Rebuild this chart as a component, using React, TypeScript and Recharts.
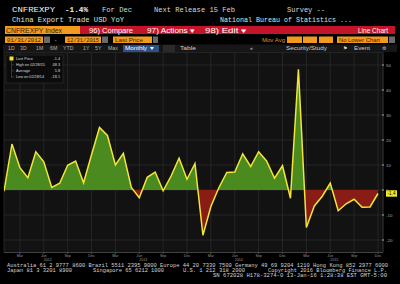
import React from 'react';
import { AreaChart, Area, XAxis, YAxis, CartesianGrid, ReferenceLine } from 'recharts';

const months = ['Jan', 'Feb', 'Mar', 'Apr', 'May', 'Jun', 'Jul', 'Aug', 'Sep', 'Oct', 'Nov', 'Dec'];
const years = [2012, 2013, 2014, 2015];
const values2012 = [-0.5, 18.4, 8.9, 4.9, 15.3, 11.3, 1.0, 2.7, 9.9, 11.6, 2.9, 14.1];
const values2013 = [25.0, 21.8, 10.0, 14.7, 1.0, -3.1, 5.1, 7.2, -0.3, 5.6, 12.7, 4.3];
const values2014 = [10.6, -18.1, -6.6, 0.9, 7.0, 7.2, 14.5, 9.4, 15.3, 11.6, 4.7, 9.7];
const values2015 = [-3.3, 48.3, -15.0, -6.4, -2.5, 2.8, -8.3, -5.5, -3.7, -6.9, -6.8, -1.4];
const exportYoY = [...values2012, ...values2013, ...values2014, ...values2015];
const tickMonths = ['Mar', 'Jun', 'Sep', 'Dec'];
const yTicks = [-20, -10, 0, 10, 20, 30, 40, 50];
const lastPriceLabel = '-1.4';
const legendRows = [
  { label: 'Last Price', value: '-1.4' },
  { label: 'High on 02/28/15', value: '48.3' },
  { label: 'Average', value: '5.8' },
  { label: 'Low on 02/28/14', value: '-18.1' },
];
const periodButtons = ['1D', '3D', '1M', '6M', 'YTD', '1Y', '5Y', 'Max'];

const data = exportYoY.map((v, i) => ({
  i,
  month: months[i % 12],
  year: years[Math.floor(i / 12)],
  v,
}));
const xTicks = data.filter((d) => tickMonths.includes(d.month)).map((d) => d.i);
const maxV = Math.max(...exportYoY);
const minV = Math.min(...exportYoY);
const zeroOffset = maxV / (maxV - minV);

const MONO = '"Liberation Mono", "DejaVu Sans Mono", monospace';
const SANS = '"Liberation Sans", Arial, sans-serif';
const GREEN = '#4b8a1f';
const RED = '#8a1c16';
const YELLOW = '#f3e53a';
const ORANGE = '#f39a1e';
const BARRED = '#c4142a';

const T = ({ x, y, w, size = 6, fill = '#ddd', anchor = 'start', font = MONO, weight = 'normal', children }: any) => (
  <text
    x={x}
    y={y}
    fontSize={size}
    fill={fill}
    textAnchor={anchor}
    fontFamily={font}
    fontWeight={weight}
    textLength={w}
    lengthAdjust={w ? 'spacingAndGlyphs' : undefined}
  >
    {children}
  </text>
);

const XTick = ({ x, y, payload }: any) => {
  const d = data[payload.value];
  if (!d) return null;
  return (
    <g>
      <line x1={x} x2={x} y1={y} y2={y + 1.5} stroke="#777" strokeWidth={0.6} />
      <text x={x} y={y + 4.5} fontSize={3.6} fill="#9a9a9a" textAnchor="middle" fontFamily={SANS}>
        {d.month}
      </text>
      {d.month === 'Jun' && (
        <text x={x + 4} y={y + 8.3} fontSize={3.6} fill="#9a9a9a" textAnchor="middle" fontFamily={SANS}>
          {d.year}
        </text>
      )}
    </g>
  );
};

const YTick = ({ x, y, payload }: any) => (
  <g>
    <circle cx={x} cy={y} r={0.8} fill="#bbb" />
    <text x={x + 3} y={y + 1.5} fontSize={4.4} fill="#aaa" fontFamily={SANS}>
      {payload.value}
    </text>
  </g>
);

const LastLabel = (props: any) => {
  const vb = props.viewBox || {};
  const x = (vb.x || 0) + (vb.width || 0) + 3;
  const y = vb.y || 0;
  return (
    <g>
      <rect x={x} y={y - 3.2} width={11} height={6.4} fill="#f2e82a" />
      <text x={x + 5.5} y={y + 1.8} fontSize={4.6} fill="#000" textAnchor="middle" fontFamily={SANS}>
        {lastPriceLabel}
      </text>
    </g>
  );
};

const Overlay = () => (
  <svg width={400} height={284} style={{ position: 'absolute', left: 0, top: 0, pointerEvents: 'none' }}>
    {/* header background */}
    <rect x={0} y={0} width={400} height={52} fill="#000" />
    {/* row 1 */}
    <T x={12} y={12} w={43} size={8} fill="#f0f0f0">CNFREXPY</T>
    <T x={65} y={12} w={23} size={8} fill="#f0f0f0" weight="bold">-1.4%</T>
    <T x={102} y={12} w={30} size={7} fill="#d8d8d8">For Dec</T>
    <T x={154} y={12} w={81} size={7} fill="#d8d8d8">Next Release 15 Feb</T>
    <T x={287} y={12} w={38} size={7} fill="#d8d8d8">Survey --</T>
    {/* row 2 */}
    <T x={12} y={22} w={112} size={7} fill="#d6e6e2">China Export Trade USD YoY</T>
    <T x={220} y={22} w={132} size={7} fill="#d6e6e2">National Bureau of Statistics ...</T>
    {/* row 3 */}
    <rect x={5} y={26} width={75} height={8} fill={ORANGE} />
    <T x={6} y={32.5} w={56} size={6.5} fill="#3a2000" font={SANS}>CNFREXPY Index</T>
    <rect x={80} y={26} width={315} height={8} fill={BARRED} />
    <T x={89} y={32.5} w={44} size={6.5} fill="#fff" font={SANS}>96) Compare</T>
    <T x={147} y={32.5} w={48} size={6.5} fill="#fff" font={SANS}>97) Actions ▾</T>
    <T x={205} y={32.5} w={42} size={6.5} fill="#fff" font={SANS}>98) Edit ▾</T>
    <T x={388} y={32.5} size={6.5} fill="#fff" anchor="end" font={SANS}>Line Chart</T>
    {/* row 4 */}
    <rect x={5} y={36.5} width={38} height={6.5} fill={ORANGE} />
    <T x={7} y={41.8} w={34} size={5.5} fill="#3a2000">01/31/2012</T>
    <rect x={44} y={36.5} width={6} height={6.5} fill="#6a6a6a" />
    <T x={54} y={41.8} size={5.5} fill="#ccc">-</T>
    <rect x={65} y={36.5} width={36} height={6.5} fill={ORANGE} />
    <T x={67} y={41.8} w={32} size={5.5} fill="#3a2000">12/31/2015</T>
    <rect x={102} y={36.5} width={6} height={6.5} fill="#6a6a6a" />
    <rect x={113} y={36.5} width={39} height={6.5} fill={ORANGE} />
    <T x={115} y={41.8} w={28} size={5.5} fill="#3a2000" font={SANS}>Last Price</T>
    <rect x={153} y={36.5} width={5} height={6.5} fill="#6a6a6a" />
    <T x={262} y={41.8} w={23} size={5} fill="#d8952e" font={SANS}>Mov Avg</T>
    <rect x={287} y={36.5} width={15} height={6.5} fill={ORANGE} />
    <rect x={303} y={36.5} width={14} height={6.5} fill={ORANGE} />
    <rect x={319} y={36.5} width={14} height={6.5} fill={ORANGE} />
    <rect x={337} y={36.5} width={51} height={6.5} fill={ORANGE} />
    <T x={339} y={41.8} w={41} size={5.5} fill="#3a2000" font={SANS}>No Lower Chart</T>
    <rect x={389} y={36.5} width={6} height={6.5} fill="#6a6a6a" />
    {/* row 5 */}
    <rect x={3} y={44.5} width={394} height={7.5} fill="#161616" />
    {periodButtons.map((b, k) => {
      const xs = [8, 20, 36, 50, 63, 83, 95, 108];
      return (
        <T key={b} x={xs[k]} y={50.3} size={5.2} fill="#b0b0b0" font={SANS}>
          {b}
        </T>
      );
    })}
    <rect x={123} y={45} width={36} height={7} fill="#2c4f86" />
    <T x={125} y={50.3} w={30} size={5.2} fill="#fff" font={SANS}>Monthly ▼</T>
    <rect x={163} y={45} width={12} height={7} fill="#2a2a2a" />
    <T x={180} y={50.3} w={16} size={5.2} fill="#ccc" font={SANS}>Table</T>
    <T x={250} y={50.3} size={5.2} fill="#ccc" font={SANS}>«</T>
    <T x={286} y={50.3} w={41} size={5.2} fill="#ccc" font={SANS}>Security/Study</T>
    <T x={343} y={50.3} size={5.2} fill="#ddd" font={SANS}>⚑</T>
    <T x={354} y={50.3} w={16} size={5.2} fill="#ccc" font={SANS}>Event</T>
    <T x={382} y={50.3} size={5.2} fill="#ccc" font={SANS}>⚙</T>
    {/* legend */}
    <rect x={6} y={55} width={57} height={28} fill="#0b0b0b" stroke="#3a3a3a" strokeWidth={0.5} />
    <rect x={9.5} y={56.5} width={4} height={4} fill="#f3e33a" />
    <line x1={11.5} x2={11.5} y1={61} y2={78} stroke="#777" strokeWidth={0.4} />
    {legendRows.map((r, k) => {
      const yy = [59.8, 66, 72, 78][k];
      return (
        <g key={r.label}>
          {k > 0 && <line x1={11.5} x2={14} y1={yy - 1.2} y2={yy - 1.2} stroke="#777" strokeWidth={0.4} />}
          <T x={16} y={yy} size={3.8} fill="#ddd" font={SANS}>{r.label}</T>
          <T x={60} y={yy} size={3.8} fill="#ddd" anchor="end" font={SANS}>{r.value}</T>
        </g>
      );
    })}
    {/* footer */}
    <rect x={0} y={262} width={400} height={22} fill="#000" />
    <T x={7} y={267} w={381} size={5.3} fill="#d4d4d4">Australia 61 2 9777 8600 Brazil 5511 2395 9000 Europe 44 20 7330 7500 Germany 49 69 9204 1210 Hong Kong 852 2977 6000</T>
    <T x={7} y={272} w={65} size={5.3} fill="#d4d4d4">Japan 81 3 3201 8900</T>
    <T x={93} y={272} w={71} size={5.3} fill="#d4d4d4">Singapore 65 6212 1000</T>
    <T x={183} y={272} w={62} size={5.3} fill="#d4d4d4">U.S. 1 212 318 2000</T>
    <T x={268} y={272} w={119} size={5.3} fill="#d4d4d4">Copyright 2016 Bloomberg Finance L.P.</T>
    <T x={213} y={277} w={174} size={5.3} fill="#d4d4d4">SN 672028 H178-3274-0 13-Jan-16  1:28:38 EST  GMT-5:00</T>
  </svg>
);

export default function App() {
  return (
    <div style={{ position: 'absolute', left: 0, top: 0, width: 400, height: 284, background: '#000', overflow: 'hidden' }}>
      <AreaChart width={400} height={284} data={data} margin={{ top: 52.5, right: 0, bottom: 19.5, left: 4 }}>
        <defs>
          <linearGradient id="splitFill" x1="0" y1="0" x2="0" y2="1">
            <stop offset={zeroOffset} stopColor={GREEN} />
            <stop offset={zeroOffset} stopColor={RED} />
          </linearGradient>
        </defs>
        <CartesianGrid fill="#121212" stroke="#2b2b2b" strokeWidth={0.8} />
        <XAxis
          dataKey="i"
          type="number"
          domain={[0, 47.63]}
          ticks={xTicks}
          tick={<XTick />}
          tickSize={0}
          tickMargin={0}
          height={12}
          axisLine={{ stroke: '#555', strokeWidth: 0.6 }}
          allowDataOverflow
        />
        <YAxis
          orientation="right"
          domain={[-25, 55]}
          ticks={yTicks}
          tick={<YTick />}
          tickSize={0}
          tickMargin={0}
          width={17}
          axisLine={{ stroke: '#3a3a3a', strokeWidth: 0.6 }}
          allowDataOverflow
        />
        <Area
          type="linear"
          dataKey="v"
          baseValue={0}
          stroke={YELLOW}
          strokeWidth={1.5}
          fill="url(#splitFill)"
          fillOpacity={1}
          dot={false}
          activeDot={false}
          isAnimationActive={false}
        />
        <ReferenceLine y={exportYoY[exportYoY.length - 1]} stroke="none" label={<LastLabel />} />
      </AreaChart>
      <Overlay />
    </div>
  );
}
